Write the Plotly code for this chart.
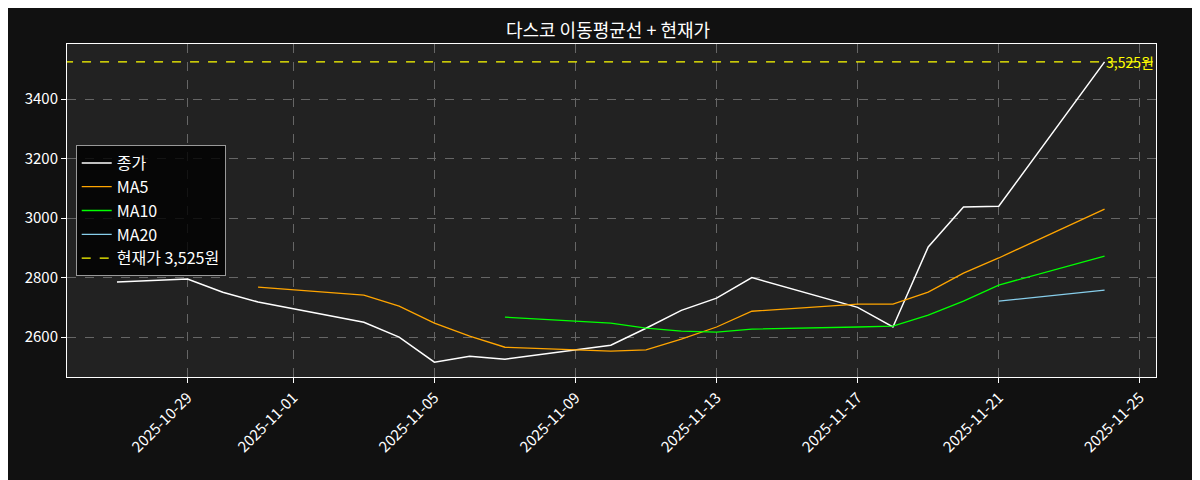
import plotly.graph_objects as go

close_dates = ["2025-10-27","2025-10-29","2025-10-30","2025-10-31","2025-11-03","2025-11-04","2025-11-05","2025-11-06","2025-11-07","2025-11-10","2025-11-11","2025-11-12","2025-11-13","2025-11-14","2025-11-17","2025-11-18","2025-11-19","2025-11-20","2025-11-21","2025-11-24"]
close_vals = [2785,2795,2751,2718,2650,2600,2516,2536,2526,2573,2630,2690,2731,2800,2700,2634,2903,3037,3040,3525]
ma5_vals = [None,None,None,2768,2741,2704,2647,2603,2566,2553,2557,2593,2634,2687,2711,2711,2751,2815,2866,3030]
ma10_vals = [None]*8 + [2667,2647,2630,2620,2617,2627,2634,2637,2674,2721,2775,2872]
ma20_vals = [None]*18 + [2721,2758]
current_price = 3525
tick_dates = ["2025-10-29","2025-11-01","2025-11-05","2025-11-09","2025-11-13","2025-11-17","2025-11-21","2025-11-25"]

fig = go.Figure()
fig.add_trace(go.Scatter(x=close_dates, y=close_vals, mode="lines", name="종가", line=dict(color="white", width=1.5)))
fig.add_trace(go.Scatter(x=close_dates, y=ma5_vals, mode="lines", name="MA5", line=dict(color="#FFA500", width=1.3)))
fig.add_trace(go.Scatter(x=close_dates, y=ma10_vals, mode="lines", name="MA10", line=dict(color="#00FF00", width=1.3)))
fig.add_trace(go.Scatter(x=close_dates, y=ma20_vals, mode="lines", name="MA20", line=dict(color="#87CEEB", width=1.3)))
fig.add_trace(go.Scatter(x=["2025-10-25 12:00","2025-11-25 12:00"], y=[current_price, current_price], mode="lines",
                         name=f"현재가 {current_price:,}원", line=dict(color="#FFFF00", width=1.3, dash="dash")))
fig.add_annotation(x=1.0, xref="paper", y=current_price, yref="y", text=f"{current_price:,}원",
                   showarrow=False, xanchor="right", yanchor="middle", font=dict(color="#FFFF00", size=14))

fig.update_layout(
    width=1200, height=480,
    paper_bgcolor="#111111", plot_bgcolor="#222222",
    font=dict(family="Noto Sans CJK KR", color="white", size=14),
    title=dict(text="다스코 이동평균선 + 현재가", x=0.5, xanchor="center", y=0.965, font=dict(size=18)),
    margin=dict(l=59, r=52, t=36, b=111),
    showlegend=True,
    legend=dict(x=0.008, y=0.50, xanchor="left", yanchor="middle", bgcolor="rgba(0,0,0,0.8)",
                bordercolor="#999999", borderwidth=1, font=dict(size=16)),
    xaxis=dict(range=["2025-10-25 14:00","2025-11-25 11:00"], tickvals=tick_dates, ticktext=tick_dates,
               tickangle=-45, showgrid=True, gridcolor="#666666", griddash="dash", gridwidth=1,
               showline=True, linecolor="white", mirror=True, ticks="outside", tickcolor="white", zeroline=False,
               tickfont=dict(size=15)),
    yaxis=dict(range=[2466, 3585], tickvals=[2600,2800,3000,3200,3400], showgrid=True, gridcolor="#666666",
               griddash="dash", showline=True, linecolor="white", mirror=True, ticks="outside", tickcolor="white", zeroline=False,
               tickfont=dict(size=15)),
)
fig.write_html("out.html")
